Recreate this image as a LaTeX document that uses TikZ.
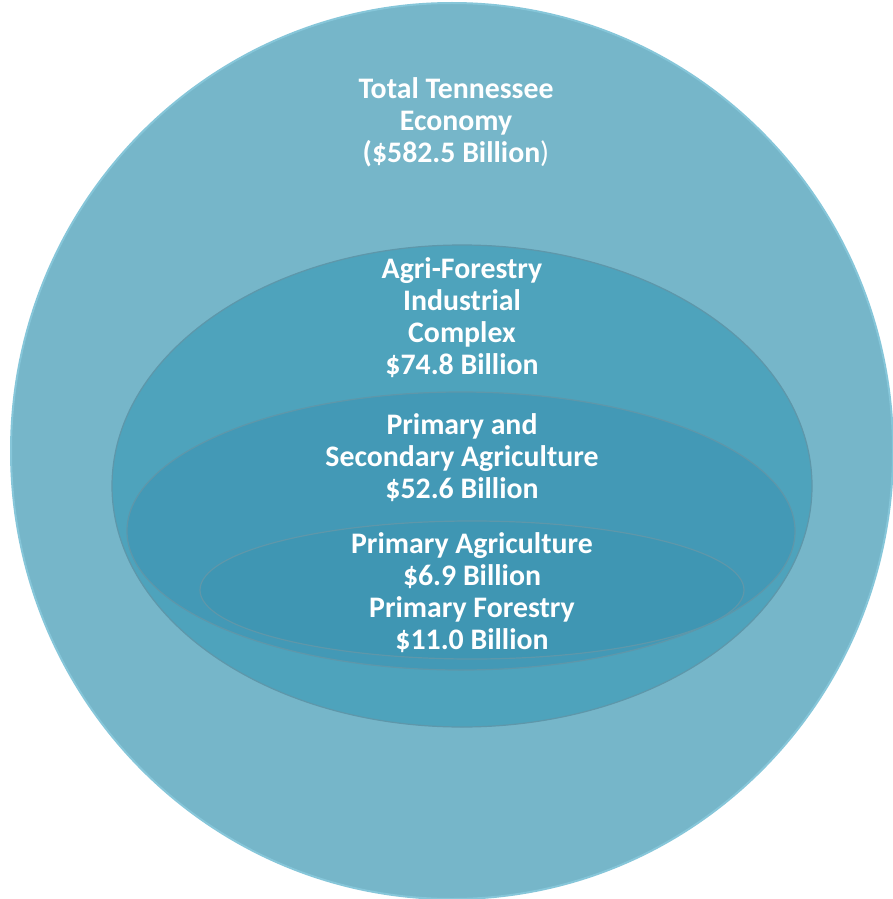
\documentclass[tikz,border=0pt]{standalone}
\usepackage{fontspec}
\setmainfont{Carlito}
\usepackage{tikz}
\usetikzlibrary{positioning}

\definecolor{economy}{HTML}{76B6C9}
\definecolor{complex}{HTML}{4EA3BC}
\definecolor{secondary}{HTML}{4399B6}
\definecolor{primary}{HTML}{3F96B3}
\definecolor{rim}{HTML}{5E97AA}
\definecolor{glow}{HTML}{86C6D9}

\tikzset{
  ring/.style={draw=rim, line width=0.6pt},
  label/.style={text=white, font=\fontsize{14.9}{16}\selectfont\bfseries,
    align=center, inner sep=0pt}
}

\begin{document}
\begin{tikzpicture}[x=0.5pt, y=-0.5pt]

  \useasboundingbox (0,0) rectangle (893,899) ;

  \fill [white] (0,0) rectangle (893,899) ;
  \path [draw=glow, line width=1pt, fill=economy] (452,451) ellipse [x radius=441, y radius=448] ;
  \path [ring, fill=complex] (462,486) ellipse [x radius=350, y radius=241] ;
  \path [ring, fill=secondary] (461,531) ellipse [x radius=334, y radius=139] ;
  \path [ring, fill=primary] (472,590) ellipse [x radius=272, y radius=69] ;

  \node [label] (total) at (456,122) {Total Tennessee\\Economy\\(\$582.5 Billion{\mdseries)}} ;
  \node [label] (agri) at (462,318) {Agri-Forestry\\Industrial\\Complex\\\$74.8 Billion} ;
  \node [label] (second) at (462,458) {Primary and\\Secondary Agriculture\\\$52.6 Billion} ;
  \node [label] (prim) at (472,593) {Primary Agriculture\\\$6.9 Billion\\Primary Forestry\\\$11.0 Billion} ;

\end{tikzpicture}
\end{document}
